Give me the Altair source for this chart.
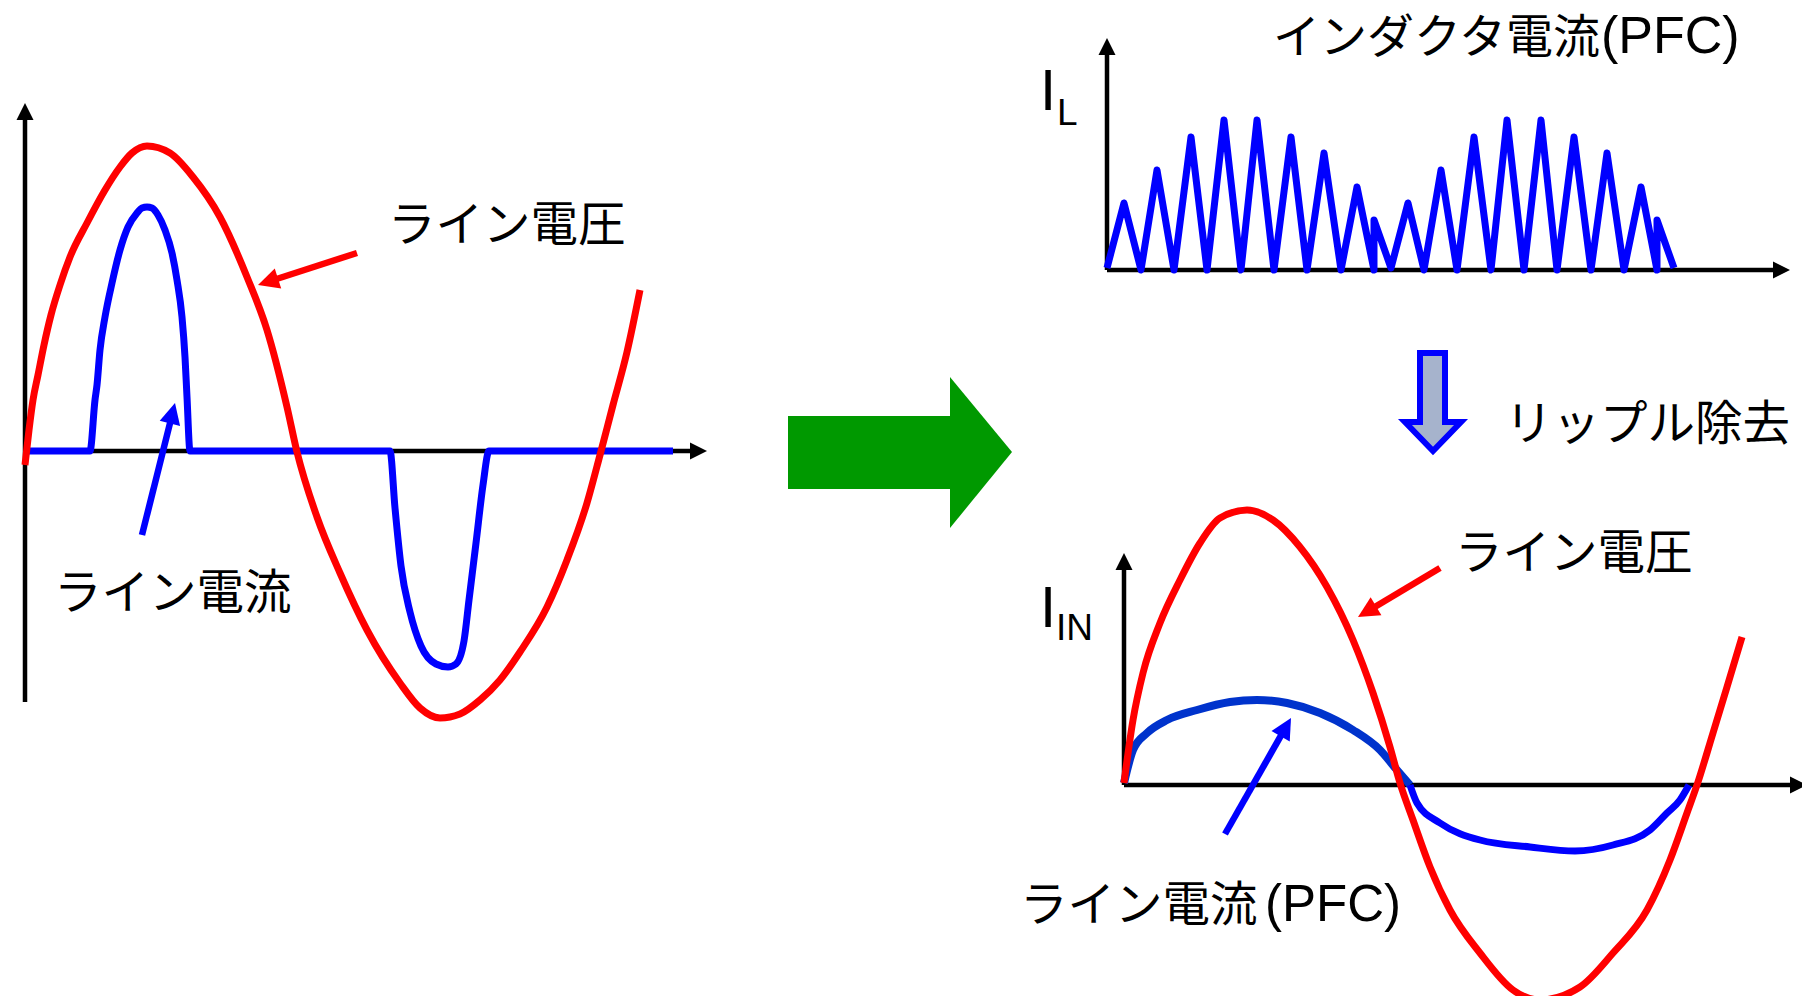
import math
import altair as alt
import pandas as pd

FONT = "Liberation Sans, Noto Sans CJK JP, sans-serif"
RED = "#ff0000"
BLUE = "#0000ff"
BLUE2 = "#0033cc"
BLACK = "#000000"

# ---------------- left panel: line voltage / line current (no PFC) -------------
lv_x = [25, 29, 33, 38, 44, 51, 60, 70, 87, 105, 120, 132, 147, 170, 193, 220, 247, 267, 287, 297,
        317, 340, 367, 400, 420, 440, 460, 480, 500, 520, 547, 567, 587, 600, 613, 627, 640]
lv_y = [465, 430, 400, 375, 345, 315, 285, 257, 223, 190, 167, 153, 146, 153, 177, 217, 277, 330, 407, 452,
        517, 573, 630, 683, 708, 718, 714, 700, 680, 652, 607, 560, 503, 455, 405, 352, 290]

li_x = [25, 90, 95, 97, 100, 105, 112, 120, 128, 137, 142, 147, 152, 158, 165, 172, 177, 182, 185, 187,
        190, 390, 395, 401, 410, 421, 436, 448, 456, 464, 469, 476, 483, 489, 673]
li_y = [451, 451, 400, 385, 350, 317, 283, 250, 227, 213, 208, 207, 208, 215, 230, 253, 280, 317, 357, 397,
        451, 451, 508, 566, 612, 646, 664, 667, 664, 641, 600, 543, 485, 451, 451]

# ---------------- top right: inductor current (PFC) ----------------------------
il_x = [1107, 1124, 1141, 1157, 1174, 1191, 1207, 1224, 1241, 1257, 1274, 1291, 1307, 1324, 1341, 1357,
        1374, 1374, 1391, 1408, 1424, 1441, 1457, 1474, 1491, 1507, 1524, 1541, 1557, 1574, 1591, 1607,
        1624, 1641, 1657, 1657, 1674]
il_y = [268, 203, 270, 170, 270, 137, 270, 120, 270, 120, 270, 137, 270, 153, 270, 187,
        270, 220, 268, 203, 270, 170, 270, 137, 270, 120, 270, 120, 270, 137, 270, 153,
        270, 187, 270, 220, 268]

# ---------------- bottom right: line voltage / line current (PFC) --------------
rv_x = [1124, 1133, 1143, 1160, 1180, 1200, 1220, 1247, 1273, 1300, 1327, 1353, 1373, 1390, 1400, 1413,
        1430, 1450, 1480, 1513, 1540, 1580, 1613, 1647, 1670, 1687, 1697, 1713, 1727, 1742]
rv_y = [783, 720, 673, 623, 580, 543, 518, 510, 520, 547, 587, 640, 693, 747, 783, 820,
        867, 910, 953, 990, 1000, 987, 953, 910, 860, 813, 785, 733, 687, 637]

rip_x = [1124, 1133, 1147, 1167, 1197, 1230, 1257, 1287, 1320, 1353, 1380, 1397, 1410]
rip_y = [783, 750, 733, 720, 710, 702, 700, 703, 713, 730, 750, 770, 785]
rin_x = [1410, 1417, 1440, 1480, 1530, 1575, 1613, 1650, 1667, 1680, 1689]
rin_y = [785, 803, 823, 840, 847, 851, 845, 830, 813, 800, 785]

# ---------------- axes (start -> arrow tip) ----------------------------------
axis_x0 = [25, 25, 1107, 1107, 1124, 1124]
axis_y0 = [702, 451, 270, 270, 785, 785]
axis_x1 = [25, 707, 1107, 1790, 1124, 1807]
axis_y1 = [103, 451, 38, 270, 553, 785]

# ---------------- annotation arrows (tail -> tip) ----------------------------
ann_x0 = [357, 142, 1440, 1225]
ann_y0 = [253, 535, 568, 834]
ann_x1 = [258, 175, 1358, 1291]
ann_y1 = [285, 403, 617, 718]
ann_col = [RED, BLUE, RED, BLUE]

# ---------------- labels ------------------------------------------------------
lab_text = ["ライン電圧", "ライン電流", "インダクタ電流", "(PFC)", "リップル除去", "ライン電圧",
            "ライン電流", "(PFC)", "I", "L", "I", "IN"]
lab_x = [388, 54, 1273, 1601, 1505, 1455, 1020, 1265, 1040, 1057, 1040, 1056]
lab_y = [241, 609, 53, 53, 440, 569, 921, 921, 110, 125, 627, 640]
lab_fs = [47.5, 47.5, 47, 52, 47.5, 47.5, 47.5, 51, 58, 37, 58, 37]

# ---------------- big green arrow & ripple-removal arrow ---------------------
green_shaft = dict(x=788, x2=952, y=416, y2=489)
green_head_x = [950, 1012]
green_head_y = [377, 452]
green_head_y2 = [528, 452]

down_y = [353, 421.9, 422, 451]
down_x = [1420, 1420, 1405, 1433]
down_x2 = [1445, 1445, 1461, 1433]

# ============================================================================
rows = []


def add_line(layer, name, xs, ys, color, sw):
    for i, (x, y) in enumerate(zip(xs, ys)):
        rows.append(dict(layer=layer, series=name, x=x, y=y, i=i, color=color, sw=sw))


heads = []


def add_arrow(layer, name, x0, y0, x1, y1, color, sw, k):
    dx, dy = x1 - x0, y1 - y0
    L = math.hypot(dx, dy)
    ux, uy = dx / L, dy / L
    hl = 2 * k - 1.5
    add_line(layer, name, [x0, x1 - ux * hl], [y0, y1 - uy * hl], color, sw)
    heads.append(dict(x=x1, y=y1, color=color, size=4 * k * k,
                      ang=math.degrees(math.atan2(dy, dx)) % 360))


for j in range(len(axis_x0)):
    add_arrow("axis", f"ax{j}", axis_x0[j], axis_y0[j], axis_x1[j], axis_y1[j], BLACK, 4.5, 8.5)
for j in range(len(ann_x0)):
    add_arrow("ann", f"an{j}", ann_x0[j], ann_y0[j], ann_x1[j], ann_y1[j], ann_col[j], 6.5, 10.5)

add_line("wave", "il", il_x, il_y, BLUE, 7)
add_line("blue", "li", li_x, li_y, BLUE, 7)
add_line("blue", "rip", rip_x, rip_y, BLUE2, 8)
add_line("blue", "rin", rin_x, rin_y, BLUE, 7)
add_line("red", "lv", lv_x, lv_y, RED, 7)
add_line("red", "rv", rv_x, rv_y, RED, 7)

df = pd.DataFrame(rows)
hdf = pd.DataFrame(heads)
labels = pd.DataFrame(dict(text=lab_text, x=lab_x, y=lab_y, fs=lab_fs))

X = alt.X("x:Q", scale=alt.Scale(domain=[8, 1802], nice=False, zero=False), axis=None)
Y = alt.Y("y:Q", scale=alt.Scale(domain=[8, 996], nice=False, zero=False, reverse=True), axis=None)


def lines(layer, interp):
    return alt.Chart(df[df.layer == layer]).mark_line(
        interpolate=interp, strokeCap="butt", strokeJoin="round").encode(
        x=X, y=Y, detail="series:N", order=alt.Order("i:Q"),
        color=alt.Color("color:N", scale=None),
        strokeWidth=alt.StrokeWidth("sw:Q", scale=None))


axes_l = lines("axis", "linear")
ann_l = lines("ann", "linear")
wave_l = lines("wave", "linear")
blue_l = lines("blue", "monotone")
red_l = lines("red", "monotone")

head_l = alt.Chart(hdf).mark_point(shape="M0,0L-2,-1L-2,1Z", filled=True, opacity=1, strokeWidth=0).encode(
    x=X, y=Y, color=alt.Color("color:N", scale=None),
    size=alt.Size("size:Q", scale=None), angle=alt.Angle("ang:Q", scale=None))

green_rect = alt.Chart(pd.DataFrame([green_shaft])).mark_rect(color="#009900").encode(
    x=X, x2="x2:Q", y=Y, y2="y2:Q")
green_tri = alt.Chart(pd.DataFrame(dict(x=green_head_x, y=green_head_y, y2=green_head_y2))).mark_area(
    color="#009900", orient="vertical", opacity=1).encode(x=X, y=Y, y2="y2:Q")

down_arrow = alt.Chart(pd.DataFrame(dict(y=down_y, x=down_x, x2=down_x2))).mark_area(
    orient="horizontal", fill="#a6b3cc", stroke=BLUE, strokeWidth=6, strokeJoin="miter",
    opacity=1, fillOpacity=1).encode(y=Y, x=X, x2="x2:Q")

text_l = alt.Chart(labels).mark_text(align="left", baseline="alphabetic", font=FONT, color="black").encode(
    x=X, y=Y, text="text:N", size=alt.Size("fs:Q", scale=None))

chart = alt.layer(axes_l, wave_l, blue_l, red_l, ann_l, head_l, green_rect, green_tri, down_arrow, text_l).properties(
    width=1794, height=988, padding=0, autosize="none", background="white"
).configure_view(stroke=None)

chart.save("out.html", embed_options={"renderer": "svg", "actions": False})
